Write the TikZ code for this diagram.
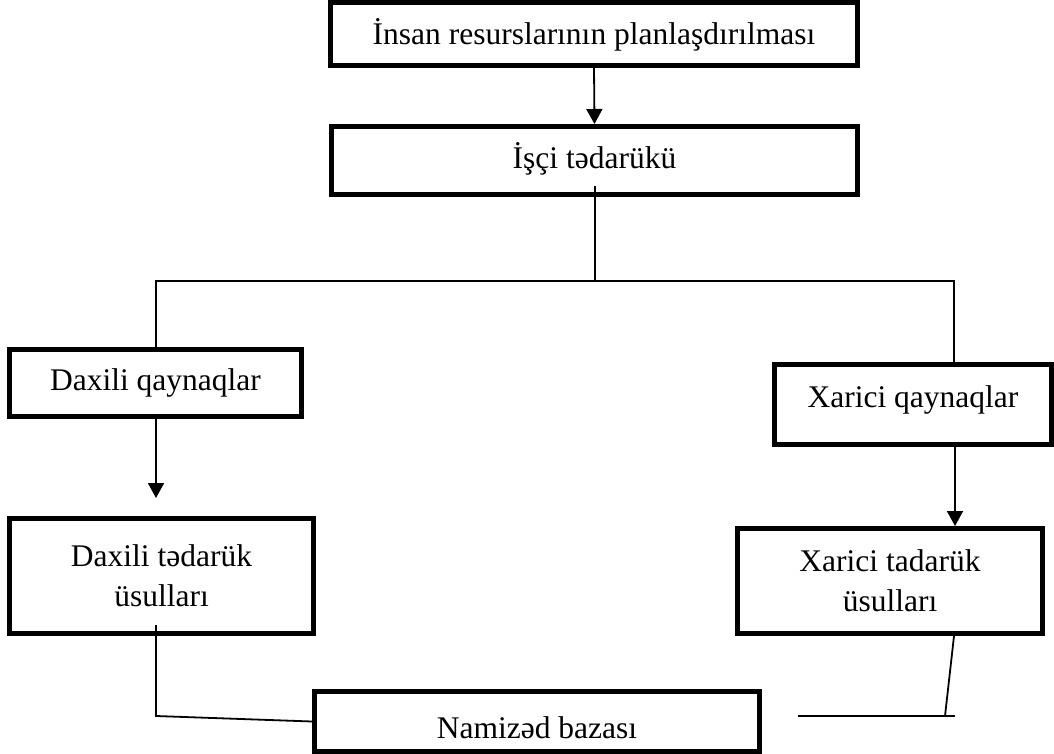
\documentclass[tikz,border=0pt]{standalone}
\usepackage{fontspec}
\setmainfont{Liberation Serif}
\usetikzlibrary{arrows.meta,calc}
\begin{document}
\begin{tikzpicture}[x=1pt,y=-1pt,
  box/.style={draw,line width=5pt,inner sep=0pt,align=center,
    font=\fontsize{31.5}{40}\selectfont},
  link/.style={line width=1.8pt},
  arr/.style={link,-{Triangle[length=15pt,width=16pt]}}]
\useasboundingbox (0,0) rectangle (1054,754);

% boxes
\node[box,minimum width=527pt,minimum height=63pt,text height=32pt,text depth=10pt]
  (plan) at (594,34) {İnsan resurslarının planlaşdırılması};
\node[box,minimum width=526pt,minimum height=68pt,text height=28.5pt,text depth=13.5pt]
  (supply) at (594.5,160.5) {İşçi tədarükü};
\node[box,minimum width=292pt,minimum height=67pt,text height=28pt,text depth=14pt]
  (intsrc) at (155.5,383) {Daxili qaynaqlar};
\node[box,minimum width=277pt,minimum height=80pt,text height=23.5pt,text depth=18.5pt]
  (extsrc) at (913,404.5) {Xarici qaynaqlar};
\node[box,minimum width=304pt,minimum height=115pt]
  (intway) at (161.5,576) {Daxili tədarük\\üsulları};
\node[box,minimum width=305pt,minimum height=105pt]
  (extway) at (890,581) {Xarici tadarük\\üsulları};
\node[box,minimum width=445pt,minimum height=60pt,text height=37.5pt,text depth=4.5pt]
  (pool) at (537,721.5) {Namizəd bazası};

% helper points
\coordinate (sstub) at (595,186);
\coordinate (split) at (595,281);
\coordinate (lcorner) at (156,281);
\coordinate (rcorner) at (954,281);
\coordinate (ltip) at (156,498);
\coordinate (rline) at (955,0);
\coordinate (istub) at (156,625);
\coordinate (ibend) at (156,716);
\coordinate (xstart) at (954,0);
\coordinate (xjoin) at (945,716);
\coordinate (xend) at (955,716);
\coordinate (xfree) at (798,716);

% connectors
\draw[arr] (plan.south) -- (supply.north);
\draw[link] (sstub) -- (split);
\draw[link] (lcorner |- intsrc.north) -- (lcorner) -- (rcorner) -- (rcorner |- extsrc.north);
\draw[arr] (ltip |- intsrc.south) -- (ltip);
\draw[arr] (rline |- extsrc.south) -- (rline |- extway.north);
\draw[link] (istub) -- (ibend) -- (pool.west);
\draw[link] (xstart |- extway.south) -- (xjoin);
\draw[link] (xfree) -- (xend);
\end{tikzpicture}
\end{document}
